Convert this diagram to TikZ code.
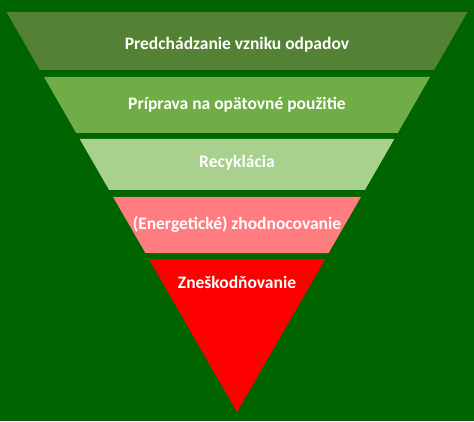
\documentclass[tikz,border=0pt]{standalone}
\usepackage{fontspec}
\setmainfont{Carlito}
\usepackage{xcolor}

\definecolor{bggreen}{HTML}{006400}
\definecolor{prevent}{HTML}{548235}
\definecolor{reuse}{HTML}{70AD47}
\definecolor{recycle}{HTML}{A9D18E}
\definecolor{recover}{HTML}{FF7C80}
\definecolor{dispose}{HTML}{FF0000}

\tikzset{
  label/.style={text=white, font=\fontsize{17.5}{20}\selectfont\bfseries, inner sep=0pt}
}

\begin{document}
\begin{tikzpicture}[x=1pt, y=1pt]

    \fill [bggreen] (0, 0) rectangle (474, 421);

    % layers of the pyramid, top to bottom
    \fill [prevent] (6.5, 409) -- (467.5, 409) -- (434.1, 351) -- (39.9, 351) -- cycle;
    \fill [reuse] (44, 344) -- (430, 344) -- (397.8, 288) -- (76.2, 288) -- cycle;
    \fill [recycle] (79.7, 282) -- (394.3, 282) -- (364.9, 231) -- (109.1, 231) -- cycle;
    \fill [recover] (113.1, 224) -- (360.9, 224) -- (328.6, 168) -- (145.4, 168) -- cycle;
    \fill [dispose] (148.8, 162) -- (325.2, 162) -- (237, 9) -- cycle;

    \node [label] (a) at (237, 376) {Predchádzanie vzniku odpadov};
    \node [label] (b) at (237, 316) {Príprava na opätovné použitie};
    \node [label] (c) at (237, 258) {Recyklácia};
    \node [label] (d) at (237, 197) {(Energetické) zhodnocovanie};
    \node [label] (e) at (237, 139) {Zneškodňovanie};

\end{tikzpicture}
\end{document}
